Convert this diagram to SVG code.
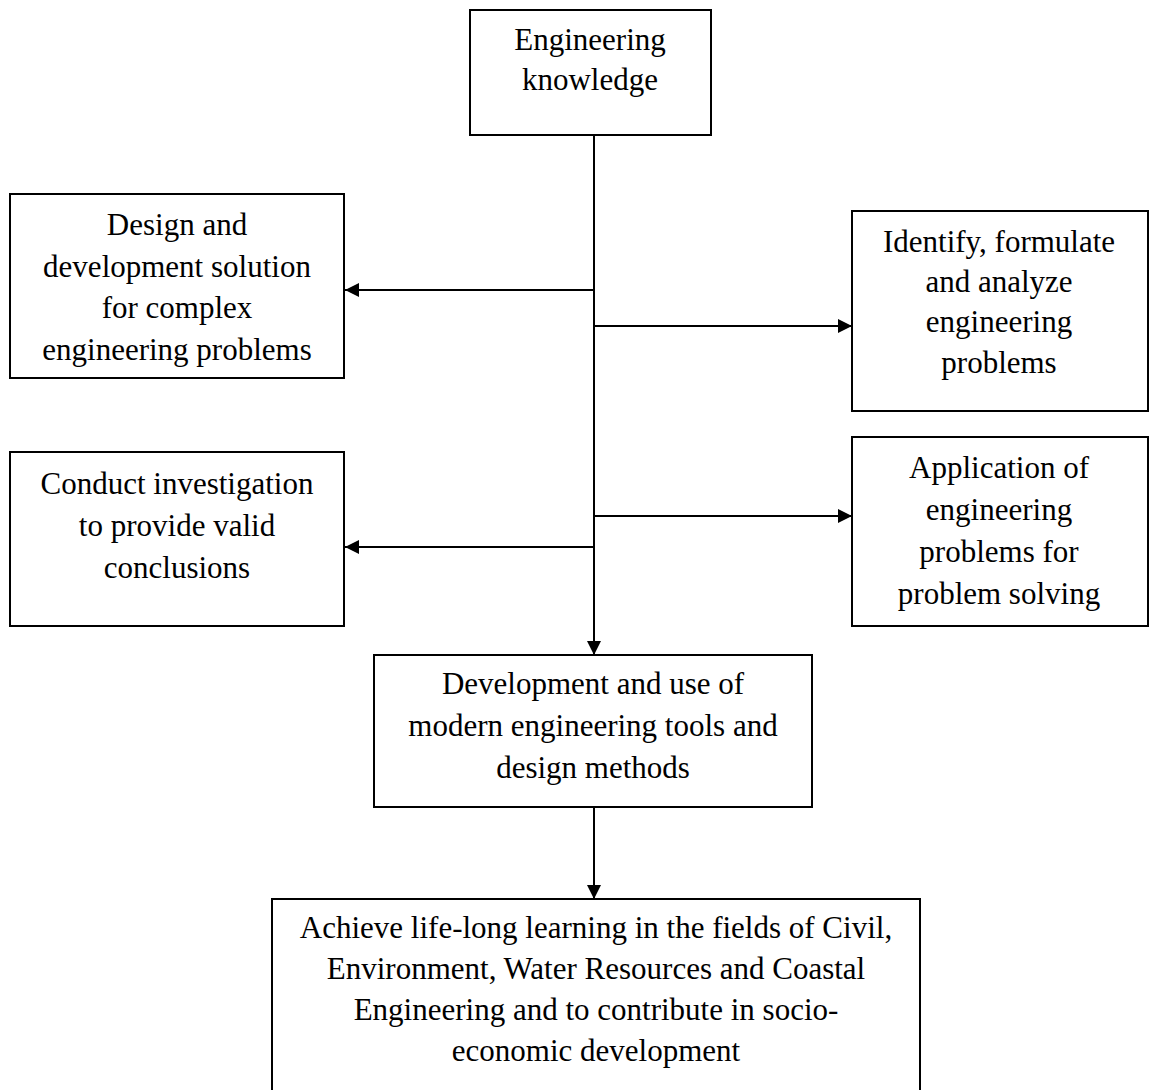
<svg xmlns="http://www.w3.org/2000/svg" width="1152" height="1090" viewBox="0 0 1152 1090">
<style>
.box{fill:#fff;stroke:#000;stroke-width:2}
.t{font-family:"Liberation Serif","Times New Roman",serif;font-size:31px;fill:#000;text-anchor:middle}
.c{stroke:#000;stroke-width:2;fill:none}
</style>
<defs>
<marker id="ah" viewBox="0 0 10 10" refX="10" refY="5" markerWidth="8" markerHeight="7" markerUnits="strokeWidth" orient="auto">
<path d="M0,0 L10,5 L0,10 z" fill="#000"/>
</marker>
</defs>
<rect width="1152" height="1090" fill="#fff"/>
<g id="connectors">
<line class="c" x1="594" y1="135" x2="594" y2="655" marker-end="url(#ah)"/>
<line class="c" x1="594" y1="290" x2="345" y2="290" marker-end="url(#ah)"/>
<line class="c" x1="594" y1="326" x2="852" y2="326" marker-end="url(#ah)"/>
<line class="c" x1="594" y1="516" x2="852" y2="516" marker-end="url(#ah)"/>
<line class="c" x1="594" y1="547" x2="345" y2="547" marker-end="url(#ah)"/>
<line class="c" x1="594" y1="807" x2="594" y2="899" marker-end="url(#ah)"/>
</g>
<g id="n-knowledge">
<rect class="box" x="470" y="10" width="241" height="125"/>
<text class="t" x="590" y="50">Engineering</text>
<text class="t" x="590" y="90">knowledge</text>
</g>
<g id="n-design">
<rect class="box" x="10" y="194" width="334" height="184"/>
<text class="t" x="177" y="235">Design and</text>
<text class="t" x="177" y="277">development solution</text>
<text class="t" x="177" y="318">for complex</text>
<text class="t" x="177" y="360">engineering problems</text>
</g>
<g id="n-identify">
<rect class="box" x="852" y="211" width="296" height="200"/>
<text class="t" x="999" y="252">Identify, formulate</text>
<text class="t" x="999" y="292">and analyze</text>
<text class="t" x="999" y="332">engineering</text>
<text class="t" x="999" y="373">problems</text>
</g>
<g id="n-application">
<rect class="box" x="852" y="437" width="296" height="189"/>
<text class="t" x="999" y="478">Application of</text>
<text class="t" x="999" y="520">engineering</text>
<text class="t" x="999" y="562">problems for</text>
<text class="t" x="999" y="604">problem solving</text>
</g>
<g id="n-conduct">
<rect class="box" x="10" y="452" width="334" height="174"/>
<text class="t" x="177" y="494">Conduct investigation</text>
<text class="t" x="177" y="536">to provide valid</text>
<text class="t" x="177" y="578">conclusions</text>
</g>
<g id="n-development">
<rect class="box" x="374" y="655" width="438" height="152"/>
<text class="t" x="593" y="694">Development and use of</text>
<text class="t" x="593" y="736">modern engineering tools and</text>
<text class="t" x="593" y="778">design methods</text>
</g>
<g id="n-achieve">
<rect class="box" x="272" y="899" width="648" height="200"/>
<text class="t" x="596" y="938">Achieve life-long learning in the fields of Civil,</text>
<text class="t" x="596" y="979">Environment, Water Resources and Coastal</text>
<text class="t" x="596" y="1020">Engineering and to contribute in socio-</text>
<text class="t" x="596" y="1061">economic development</text>
</g>
</svg>
